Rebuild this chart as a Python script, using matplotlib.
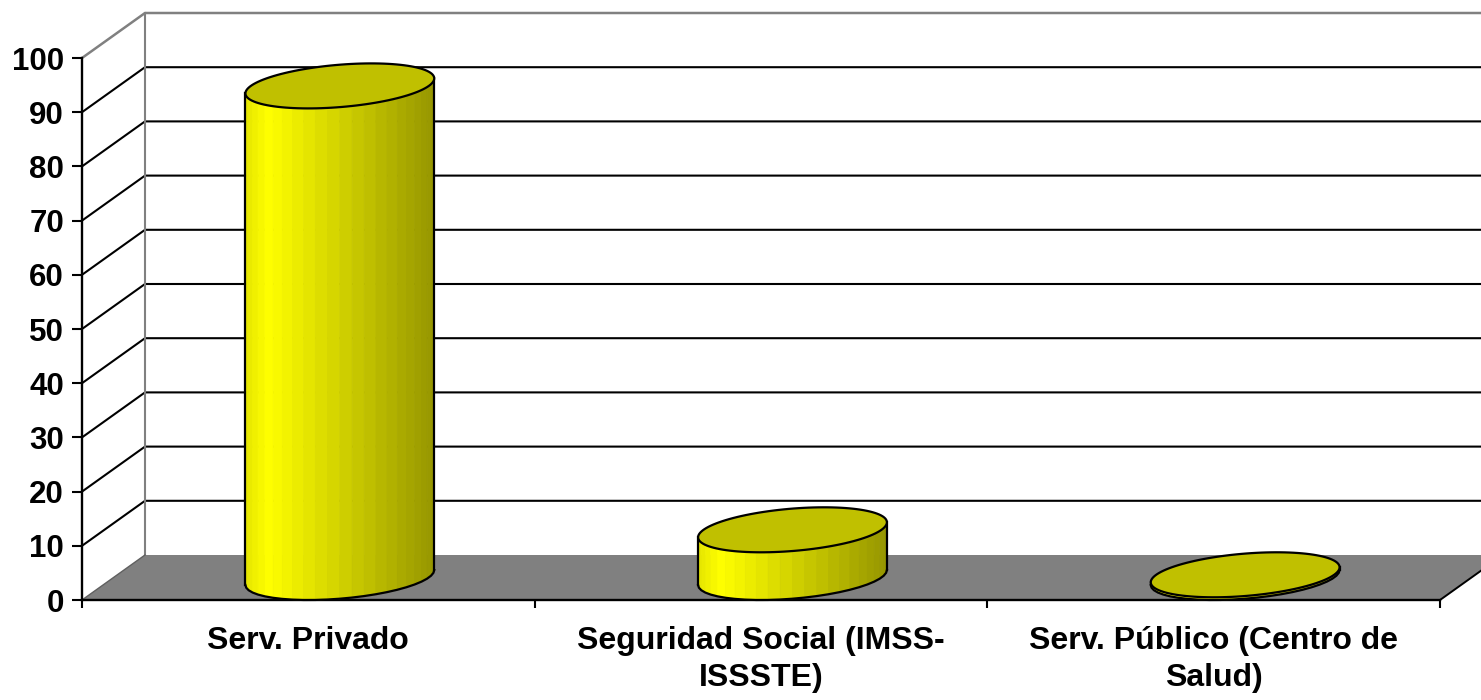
import matplotlib.pyplot as plt
import numpy as np
from matplotlib.patches import Polygon

plt.rcParams["font.family"] = ["Liberation Sans", "DejaVu Sans"]
plt.rcParams["font.weight"] = "bold"

categories = [
    "Serv. Privado",
    "Seguridad Social (IMSS-\nISSSTE)",
    "Serv. Público (Centro de\nSalud)",
]
values = [90.7, 8.8, 0.5]
yticks = list(range(0, 101, 10))

fig = plt.figure(figsize=(14.81, 7.0), dpi=100)
ax = fig.add_axes([82 / 1481, 100 / 700, 1358 / 1481, 542 / 700])
ax.set_xlim(0, len(categories))
ax.set_ylim(0, 100)

# oblique depth offset (full depth) in data units
DX = 63 / 1358 * 3
DV = 45 / 542 * 100
XMAX = len(categories)

wall_edge = "#808080"

# floor
ax.add_patch(Polygon([(0, 0), (XMAX, 0), (XMAX + DX, DV), (DX, DV)],
                     closed=True, facecolor="#808080", edgecolor="none",
                     zorder=1, clip_on=False))
ax.plot([XMAX, XMAX + DX], [0, DV], color="black", lw=1.4, zorder=1.5, clip_on=False)
ax.plot([0, DX], [0, DV], color="#606060", lw=1.0, zorder=1.5, clip_on=False)

# back wall and side wall
ax.add_patch(Polygon([(DX, DV), (XMAX + DX, DV), (XMAX + DX, 100 + DV), (DX, 100 + DV)],
                     closed=True, facecolor="white", edgecolor="none",
                     zorder=0.5, clip_on=False))
ax.plot([DX, DX], [DV, 100 + DV], color=wall_edge, lw=1.5, zorder=1.2, clip_on=False)
ax.plot([0, DX, XMAX + DX], [100, 100 + DV, 100 + DV], color=wall_edge, lw=1.8,
        zorder=1.2, clip_on=False)

# gridlines on side wall and back wall
for v in yticks[1:-1]:
    ax.plot([0, DX, XMAX + DX], [v, v + DV, v + DV], color="black", lw=1.5,
            zorder=1.1, clip_on=False)


def side_shade(f):
    if f < 0.12:
        b = 228 + 27 * f / 0.12
    else:
        b = 255 - 105 * (f - 0.12) / 0.88
    return (b / 255, b / 255, 0.0)


rx = 89 / 1358 * 3
t0 = np.arctan2(0.5 * DX, rx)


def ellipse(center, h, t):
    x = center + rx * np.cos(t) + DX * (0.5 + 0.5 * np.sin(t))
    y = h + DV * (0.5 + 0.5 * np.sin(t))
    return x, y


for i, val in enumerate(values):
    c = i + 0.5
    tf = np.linspace(t0 + np.pi, t0 + 2 * np.pi, 25)
    xb, yb = ellipse(c, 0, tf)
    xt, yt = ellipse(c, val, tf)
    xl, xr = xb[0], xb[-1]
    # shaded facets of the visible side
    for k in range(len(tf) - 1):
        f = ((xb[k] + xb[k + 1]) / 2 - xl) / (xr - xl)
        col = side_shade(f)
        pts = [(xb[k], yb[k]), (xb[k + 1], yb[k + 1]),
               (xt[k + 1], yt[k + 1]), (xt[k], yt[k])]
        ax.add_patch(Polygon(pts, closed=True, facecolor=col, edgecolor=col,
                             lw=0.6, zorder=3, clip_on=False))
    # outline of the side
    ax.plot(xb, yb, color="black", lw=1.6, zorder=3.2, clip_on=False)
    ax.plot([xb[0], xt[0]], [yb[0], yt[0]], color="black", lw=1.6, zorder=3.2, clip_on=False)
    ax.plot([xb[-1], xt[-1]], [yb[-1], yt[-1]], color="black", lw=1.6, zorder=3.2, clip_on=False)
    # top face
    ta = np.linspace(0, 2 * np.pi, 120)
    xe, ye = ellipse(c, val, ta)
    ax.add_patch(Polygon(np.column_stack([xe, ye]), closed=True, facecolor="#C0C000",
                         edgecolor="black", lw=1.6, zorder=3.5, clip_on=False))

# axes and ticks
for s in ["top", "right"]:
    ax.spines[s].set_visible(False)
for s in ["left", "bottom"]:
    ax.spines[s].set_linewidth(1.7)
    ax.spines[s].set_zorder(2.5)

ax.set_yticks(yticks)
ax.set_yticklabels([str(v) for v in yticks])
ax.tick_params(axis="y", direction="out", length=7, width=1.5, labelsize=22.5, pad=6)

ax.set_xticks(range(len(categories) + 1))
ax.set_xticklabels([])
ax.tick_params(axis="x", which="major", direction="out", length=6, width=1.5)
ax.set_xticks([i + 0.5 for i in range(len(categories))], minor=True)
ax.set_xticklabels(categories, minor=True, fontsize=23, fontweight="bold",
                   linespacing=1.3)
ax.tick_params(axis="x", which="minor", length=0, pad=19)

fig.savefig("out.png", dpi=100)
